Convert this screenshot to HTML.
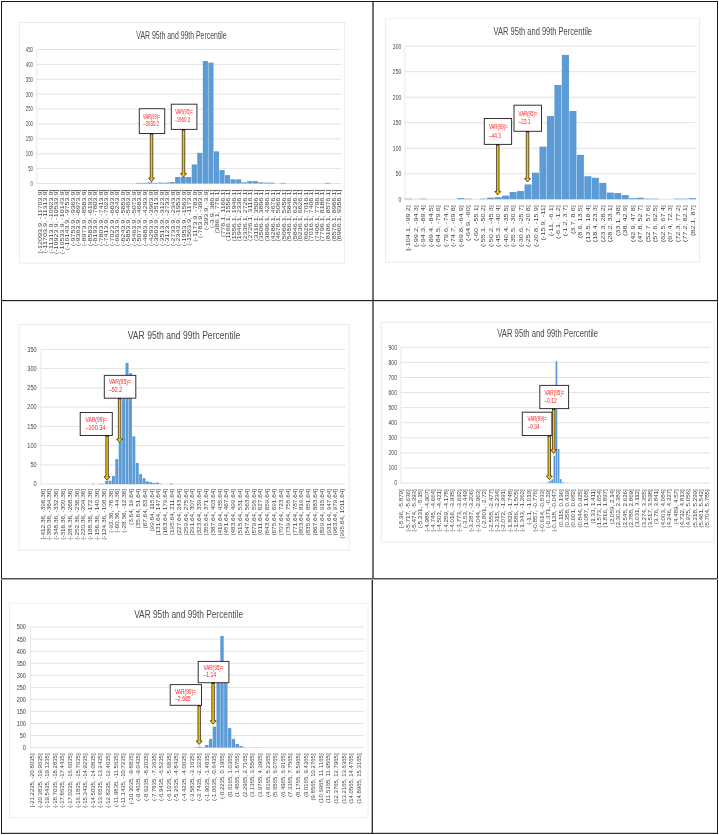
<!DOCTYPE html><html><head><meta charset="utf-8"><style>html,body{margin:0;padding:0;background:#fff;}svg{display:block;}text{font-family:"Liberation Sans",sans-serif;}svg{will-change:transform;}</style></head><body>
<svg width="719" height="835" viewBox="0 0 719 835">
<rect x="0" y="0" width="719" height="835" fill="#fff"/>
<defs><filter id="b" x="0" y="0" width="1" height="1"><feGaussianBlur stdDeviation="0.45"/></filter></defs>
<g filter="url(#b)">
<rect x="19.5" y="22.5" width="325.2" height="240.7" fill="#fff" stroke="#ececec" stroke-width="1"/>
<text x="136.3" y="38.7" font-size="10.8" fill="#4a4a4a" textLength="90.4" lengthAdjust="spacingAndGlyphs">VAR 95th and 99th Percentile</text>
<line x1="36.8" y1="183.5" x2="341.2" y2="183.5" stroke="#e3e3e3" stroke-width="1"/>
<text transform="translate(32.9,185.85) scale(0.65,1)" font-size="6.6" fill="#444444" text-anchor="end">0</text>
<line x1="36.8" y1="168.61" x2="341.2" y2="168.61" stroke="#e3e3e3" stroke-width="1"/>
<text transform="translate(32.9,170.96) scale(0.65,1)" font-size="6.6" fill="#444444" text-anchor="end">50</text>
<line x1="36.8" y1="153.72" x2="341.2" y2="153.72" stroke="#e3e3e3" stroke-width="1"/>
<text transform="translate(32.9,156.07) scale(0.65,1)" font-size="6.6" fill="#444444" text-anchor="end">100</text>
<line x1="36.8" y1="138.83" x2="341.2" y2="138.83" stroke="#e3e3e3" stroke-width="1"/>
<text transform="translate(32.9,141.18) scale(0.65,1)" font-size="6.6" fill="#444444" text-anchor="end">150</text>
<line x1="36.8" y1="123.94" x2="341.2" y2="123.94" stroke="#e3e3e3" stroke-width="1"/>
<text transform="translate(32.9,126.29) scale(0.65,1)" font-size="6.6" fill="#444444" text-anchor="end">200</text>
<line x1="36.8" y1="109.06" x2="341.2" y2="109.06" stroke="#e3e3e3" stroke-width="1"/>
<text transform="translate(32.9,111.41) scale(0.65,1)" font-size="6.6" fill="#444444" text-anchor="end">250</text>
<line x1="36.8" y1="94.17" x2="341.2" y2="94.17" stroke="#e3e3e3" stroke-width="1"/>
<text transform="translate(32.9,96.52) scale(0.65,1)" font-size="6.6" fill="#444444" text-anchor="end">300</text>
<line x1="36.8" y1="79.28" x2="341.2" y2="79.28" stroke="#e3e3e3" stroke-width="1"/>
<text transform="translate(32.9,81.63) scale(0.65,1)" font-size="6.6" fill="#444444" text-anchor="end">350</text>
<line x1="36.8" y1="64.39" x2="341.2" y2="64.39" stroke="#e3e3e3" stroke-width="1"/>
<text transform="translate(32.9,66.74) scale(0.65,1)" font-size="6.6" fill="#444444" text-anchor="end">400</text>
<line x1="36.8" y1="49.5" x2="341.2" y2="49.5" stroke="#e3e3e3" stroke-width="1"/>
<text transform="translate(32.9,51.85) scale(0.65,1)" font-size="6.6" fill="#444444" text-anchor="end">450</text>
<line x1="36.8" y1="49.5" x2="36.8" y2="183.5" stroke="#e3e3e3" stroke-width="0.8"/>
<rect x="136.26" y="182.9" width="5.15" height="0.6" fill="#5b9bd5"/>
<rect x="141.8" y="182.9" width="5.15" height="0.6" fill="#5b9bd5"/>
<rect x="147.35" y="182.31" width="5.15" height="1.19" fill="#5b9bd5"/>
<rect x="152.9" y="182.9" width="5.15" height="0.6" fill="#5b9bd5"/>
<rect x="158.44" y="182.61" width="5.15" height="0.89" fill="#5b9bd5"/>
<rect x="163.99" y="182.61" width="5.15" height="0.89" fill="#5b9bd5"/>
<rect x="169.53" y="182.01" width="5.15" height="1.49" fill="#5b9bd5"/>
<rect x="175.08" y="176.95" width="5.15" height="6.55" fill="#5b9bd5"/>
<rect x="180.63" y="176.95" width="5.15" height="6.55" fill="#5b9bd5"/>
<rect x="186.17" y="176.95" width="5.15" height="6.55" fill="#5b9bd5"/>
<rect x="191.72" y="164.44" width="5.15" height="19.06" fill="#5b9bd5"/>
<rect x="197.26" y="152.83" width="5.15" height="30.67" fill="#5b9bd5"/>
<rect x="202.81" y="61.11" width="5.15" height="122.39" fill="#5b9bd5"/>
<rect x="208.36" y="62.6" width="5.15" height="120.9" fill="#5b9bd5"/>
<rect x="213.9" y="151.34" width="5.15" height="32.16" fill="#5b9bd5"/>
<rect x="219.45" y="170.1" width="5.15" height="13.4" fill="#5b9bd5"/>
<rect x="224.99" y="175.16" width="5.15" height="8.34" fill="#5b9bd5"/>
<rect x="230.54" y="179.33" width="5.15" height="4.17" fill="#5b9bd5"/>
<rect x="236.09" y="179.33" width="5.15" height="4.17" fill="#5b9bd5"/>
<rect x="241.63" y="182.31" width="5.15" height="1.19" fill="#5b9bd5"/>
<rect x="247.18" y="181.12" width="5.15" height="2.38" fill="#5b9bd5"/>
<rect x="252.72" y="181.12" width="5.15" height="2.38" fill="#5b9bd5"/>
<rect x="258.27" y="182.31" width="5.15" height="1.19" fill="#5b9bd5"/>
<rect x="263.82" y="182.61" width="5.15" height="0.89" fill="#5b9bd5"/>
<rect x="269.36" y="182.61" width="5.15" height="0.89" fill="#5b9bd5"/>
<rect x="280.45" y="182.9" width="5.15" height="0.6" fill="#5b9bd5"/>
<rect x="324.82" y="182.9" width="5.15" height="0.6" fill="#5b9bd5"/>
<text transform="translate(41.61,189.5) rotate(-90) scale(1.35,1)" font-size="5.3" fill="#444444" text-anchor="end">[-12093.9, -11703.9]</text>
<text transform="translate(47.15,189.5) rotate(-90) scale(1.35,1)" font-size="5.3" fill="#444444" text-anchor="end">(-11703.9, -11313.9]</text>
<text transform="translate(52.7,189.5) rotate(-90) scale(1.35,1)" font-size="5.3" fill="#444444" text-anchor="end">(-11313.9, -10923.9]</text>
<text transform="translate(58.24,189.5) rotate(-90) scale(1.35,1)" font-size="5.3" fill="#444444" text-anchor="end">(-10923.9, -10533.9]</text>
<text transform="translate(63.79,189.5) rotate(-90) scale(1.35,1)" font-size="5.3" fill="#444444" text-anchor="end">(-10533.9, -10143.9]</text>
<text transform="translate(69.34,189.5) rotate(-90) scale(1.35,1)" font-size="5.3" fill="#444444" text-anchor="end">(-10143.9, -9753.9]</text>
<text transform="translate(74.88,189.5) rotate(-90) scale(1.35,1)" font-size="5.3" fill="#444444" text-anchor="end">(-9753.9, -9363.9]</text>
<text transform="translate(80.43,189.5) rotate(-90) scale(1.35,1)" font-size="5.3" fill="#444444" text-anchor="end">(-9363.9, -8973.9]</text>
<text transform="translate(85.97,189.5) rotate(-90) scale(1.35,1)" font-size="5.3" fill="#444444" text-anchor="end">(-8973.9, -8583.9]</text>
<text transform="translate(91.52,189.5) rotate(-90) scale(1.35,1)" font-size="5.3" fill="#444444" text-anchor="end">(-8583.9, -8193.9]</text>
<text transform="translate(97.07,189.5) rotate(-90) scale(1.35,1)" font-size="5.3" fill="#444444" text-anchor="end">(-8193.9, -7803.9]</text>
<text transform="translate(102.61,189.5) rotate(-90) scale(1.35,1)" font-size="5.3" fill="#444444" text-anchor="end">(-7803.9, -7413.9]</text>
<text transform="translate(108.16,189.5) rotate(-90) scale(1.35,1)" font-size="5.3" fill="#444444" text-anchor="end">(-7413.9, -7023.9]</text>
<text transform="translate(113.7,189.5) rotate(-90) scale(1.35,1)" font-size="5.3" fill="#444444" text-anchor="end">(-7023.9, -6633.9]</text>
<text transform="translate(119.25,189.5) rotate(-90) scale(1.35,1)" font-size="5.3" fill="#444444" text-anchor="end">(-6633.9, -6243.9]</text>
<text transform="translate(124.8,189.5) rotate(-90) scale(1.35,1)" font-size="5.3" fill="#444444" text-anchor="end">(-6243.9, -5853.9]</text>
<text transform="translate(130.34,189.5) rotate(-90) scale(1.35,1)" font-size="5.3" fill="#444444" text-anchor="end">(-5853.9, -5463.9]</text>
<text transform="translate(135.89,189.5) rotate(-90) scale(1.35,1)" font-size="5.3" fill="#444444" text-anchor="end">(-5463.9, -5073.9]</text>
<text transform="translate(141.43,189.5) rotate(-90) scale(1.35,1)" font-size="5.3" fill="#444444" text-anchor="end">(-5073.9, -4683.9]</text>
<text transform="translate(146.98,189.5) rotate(-90) scale(1.35,1)" font-size="5.3" fill="#444444" text-anchor="end">(-4683.9, -4293.9]</text>
<text transform="translate(152.53,189.5) rotate(-90) scale(1.35,1)" font-size="5.3" fill="#444444" text-anchor="end">(-4293.9, -3903.9]</text>
<text transform="translate(158.07,189.5) rotate(-90) scale(1.35,1)" font-size="5.3" fill="#444444" text-anchor="end">(-3903.9, -3513.9]</text>
<text transform="translate(163.62,189.5) rotate(-90) scale(1.35,1)" font-size="5.3" fill="#444444" text-anchor="end">(-3513.9, -3123.9]</text>
<text transform="translate(169.16,189.5) rotate(-90) scale(1.35,1)" font-size="5.3" fill="#444444" text-anchor="end">(-3123.9, -2733.9]</text>
<text transform="translate(174.71,189.5) rotate(-90) scale(1.35,1)" font-size="5.3" fill="#444444" text-anchor="end">(-2733.9, -2343.9]</text>
<text transform="translate(180.25,189.5) rotate(-90) scale(1.35,1)" font-size="5.3" fill="#444444" text-anchor="end">(-2343.9, -1953.9]</text>
<text transform="translate(185.8,189.5) rotate(-90) scale(1.35,1)" font-size="5.3" fill="#444444" text-anchor="end">(-1953.9, -1563.9]</text>
<text transform="translate(191.35,189.5) rotate(-90) scale(1.35,1)" font-size="5.3" fill="#444444" text-anchor="end">(-1563.9, -1173.9]</text>
<text transform="translate(196.89,189.5) rotate(-90) scale(1.35,1)" font-size="5.3" fill="#444444" text-anchor="end">(-1173.9, -783.9]</text>
<text transform="translate(202.44,189.5) rotate(-90) scale(1.35,1)" font-size="5.3" fill="#444444" text-anchor="end">(-783.9, -393.9]</text>
<text transform="translate(207.98,189.5) rotate(-90) scale(1.35,1)" font-size="5.3" fill="#444444" text-anchor="end">(-393.9, -3.9]</text>
<text transform="translate(213.53,189.5) rotate(-90) scale(1.35,1)" font-size="5.3" fill="#444444" text-anchor="end">(-3.9, 386.1]</text>
<text transform="translate(219.08,189.5) rotate(-90) scale(1.35,1)" font-size="5.3" fill="#444444" text-anchor="end">(386.1, 776.1]</text>
<text transform="translate(224.62,189.5) rotate(-90) scale(1.35,1)" font-size="5.3" fill="#444444" text-anchor="end">(776.1, 1166.1]</text>
<text transform="translate(230.17,189.5) rotate(-90) scale(1.35,1)" font-size="5.3" fill="#444444" text-anchor="end">(1166.1, 1556.1]</text>
<text transform="translate(235.72,189.5) rotate(-90) scale(1.35,1)" font-size="5.3" fill="#444444" text-anchor="end">(1556.1, 1946.1]</text>
<text transform="translate(241.26,189.5) rotate(-90) scale(1.35,1)" font-size="5.3" fill="#444444" text-anchor="end">(1946.1, 2336.1]</text>
<text transform="translate(246.81,189.5) rotate(-90) scale(1.35,1)" font-size="5.3" fill="#444444" text-anchor="end">(2336.1, 2726.1]</text>
<text transform="translate(252.35,189.5) rotate(-90) scale(1.35,1)" font-size="5.3" fill="#444444" text-anchor="end">(2726.1, 3116.1]</text>
<text transform="translate(257.9,189.5) rotate(-90) scale(1.35,1)" font-size="5.3" fill="#444444" text-anchor="end">(3116.1, 3506.1]</text>
<text transform="translate(263.44,189.5) rotate(-90) scale(1.35,1)" font-size="5.3" fill="#444444" text-anchor="end">(3506.1, 3896.1]</text>
<text transform="translate(268.99,189.5) rotate(-90) scale(1.35,1)" font-size="5.3" fill="#444444" text-anchor="end">(3896.1, 4286.1]</text>
<text transform="translate(274.54,189.5) rotate(-90) scale(1.35,1)" font-size="5.3" fill="#444444" text-anchor="end">(4286.1, 4676.1]</text>
<text transform="translate(280.08,189.5) rotate(-90) scale(1.35,1)" font-size="5.3" fill="#444444" text-anchor="end">(4676.1, 5066.1]</text>
<text transform="translate(285.63,189.5) rotate(-90) scale(1.35,1)" font-size="5.3" fill="#444444" text-anchor="end">(5066.1, 5456.1]</text>
<text transform="translate(291.18,189.5) rotate(-90) scale(1.35,1)" font-size="5.3" fill="#444444" text-anchor="end">(5456.1, 5846.1]</text>
<text transform="translate(296.72,189.5) rotate(-90) scale(1.35,1)" font-size="5.3" fill="#444444" text-anchor="end">(5846.1, 6236.1]</text>
<text transform="translate(302.27,189.5) rotate(-90) scale(1.35,1)" font-size="5.3" fill="#444444" text-anchor="end">(6236.1, 6626.1]</text>
<text transform="translate(307.81,189.5) rotate(-90) scale(1.35,1)" font-size="5.3" fill="#444444" text-anchor="end">(6626.1, 7016.1]</text>
<text transform="translate(313.36,189.5) rotate(-90) scale(1.35,1)" font-size="5.3" fill="#444444" text-anchor="end">(7016.1, 7406.1]</text>
<text transform="translate(318.91,189.5) rotate(-90) scale(1.35,1)" font-size="5.3" fill="#444444" text-anchor="end">(7406.1, 7796.1]</text>
<text transform="translate(324.45,189.5) rotate(-90) scale(1.35,1)" font-size="5.3" fill="#444444" text-anchor="end">(7796.1, 8186.1]</text>
<text transform="translate(330,189.5) rotate(-90) scale(1.35,1)" font-size="5.3" fill="#444444" text-anchor="end">(8186.1, 8576.1]</text>
<text transform="translate(335.54,189.5) rotate(-90) scale(1.35,1)" font-size="5.3" fill="#444444" text-anchor="end">(8576.1, 8966.1]</text>
<text transform="translate(341.09,189.5) rotate(-90) scale(1.35,1)" font-size="5.3" fill="#444444" text-anchor="end">(8966.1, 9356.1]</text>
<path d="M150.25,133.5 L150.25,178.1 L148.5,178.1 L151.5,181.7 L154.5,178.1 L152.75,178.1 L152.75,133.5 Z" fill="#ffc000" stroke="#262626" stroke-width="0.75" stroke-linejoin="miter"/>
<rect x="139.3" y="108.7" width="25.4" height="24.8" fill="#fff" stroke="#333" stroke-width="1"/>
<rect x="149.95" y="133.5" width="3.1" height="1" fill="#111"/>
<text x="143.1" y="118.5" font-size="7.2" fill="#ff1a1a" textLength="17.2" lengthAdjust="spacingAndGlyphs">VAR(99)=</text>
<text x="143.1" y="126.4" font-size="7.2" fill="#ff1a1a" textLength="15.9" lengthAdjust="spacingAndGlyphs">–3930.2</text>
<path d="M182.25,129.4 L182.25,173.6 L180.5,173.6 L183.5,177.2 L186.5,173.6 L184.75,173.6 L184.75,129.4 Z" fill="#ffc000" stroke="#262626" stroke-width="0.75" stroke-linejoin="miter"/>
<rect x="171.3" y="104.2" width="25.6" height="25.2" fill="#fff" stroke="#333" stroke-width="1"/>
<rect x="181.95" y="129.4" width="3.1" height="1" fill="#111"/>
<text x="175.2" y="114" font-size="7.2" fill="#ff1a1a" textLength="17.7" lengthAdjust="spacingAndGlyphs">VAR(95)=</text>
<text x="175.2" y="122.1" font-size="7.2" fill="#ff1a1a" textLength="15" lengthAdjust="spacingAndGlyphs">-1960.3</text>
<rect x="385.5" y="18.0" width="314" height="244.2" fill="#fff" stroke="#ececec" stroke-width="1"/>
<text x="493.6" y="34.9" font-size="10.8" fill="#4a4a4a" textLength="98.4" lengthAdjust="spacingAndGlyphs">VAR 95th and 99th Percentile</text>
<line x1="404.9" y1="199.2" x2="695.8" y2="199.2" stroke="#e3e3e3" stroke-width="1"/>
<text transform="translate(401.3,201.55) scale(0.77,1)" font-size="6.6" fill="#444444" text-anchor="end">0</text>
<line x1="404.9" y1="173.7" x2="695.8" y2="173.7" stroke="#e3e3e3" stroke-width="1"/>
<text transform="translate(401.3,176.05) scale(0.77,1)" font-size="6.6" fill="#444444" text-anchor="end">50</text>
<line x1="404.9" y1="148.2" x2="695.8" y2="148.2" stroke="#e3e3e3" stroke-width="1"/>
<text transform="translate(401.3,150.55) scale(0.77,1)" font-size="6.6" fill="#444444" text-anchor="end">100</text>
<line x1="404.9" y1="122.7" x2="695.8" y2="122.7" stroke="#e3e3e3" stroke-width="1"/>
<text transform="translate(401.3,125.05) scale(0.77,1)" font-size="6.6" fill="#444444" text-anchor="end">150</text>
<line x1="404.9" y1="97.2" x2="695.8" y2="97.2" stroke="#e3e3e3" stroke-width="1"/>
<text transform="translate(401.3,99.55) scale(0.77,1)" font-size="6.6" fill="#444444" text-anchor="end">200</text>
<line x1="404.9" y1="71.7" x2="695.8" y2="71.7" stroke="#e3e3e3" stroke-width="1"/>
<text transform="translate(401.3,74.05) scale(0.77,1)" font-size="6.6" fill="#444444" text-anchor="end">250</text>
<line x1="404.9" y1="46.2" x2="695.8" y2="46.2" stroke="#e3e3e3" stroke-width="1"/>
<text transform="translate(401.3,48.55) scale(0.77,1)" font-size="6.6" fill="#444444" text-anchor="end">300</text>
<line x1="404.9" y1="46.2" x2="404.9" y2="199.2" stroke="#e3e3e3" stroke-width="0.8"/>
<rect x="404.9" y="198.69" width="7.07" height="0.51" fill="#5b9bd5"/>
<rect x="419.85" y="198.69" width="7.07" height="0.51" fill="#5b9bd5"/>
<rect x="457.22" y="198.18" width="7.07" height="1.02" fill="#5b9bd5"/>
<rect x="464.7" y="198.69" width="7.07" height="0.51" fill="#5b9bd5"/>
<rect x="479.65" y="198.69" width="7.07" height="0.51" fill="#5b9bd5"/>
<rect x="487.12" y="197.67" width="7.07" height="1.53" fill="#5b9bd5"/>
<rect x="494.6" y="197.16" width="7.07" height="2.04" fill="#5b9bd5"/>
<rect x="502.07" y="195.63" width="7.07" height="3.57" fill="#5b9bd5"/>
<rect x="509.55" y="192.06" width="7.07" height="7.14" fill="#5b9bd5"/>
<rect x="517.03" y="191.04" width="7.07" height="8.16" fill="#5b9bd5"/>
<rect x="524.5" y="184.41" width="7.07" height="14.79" fill="#5b9bd5"/>
<rect x="531.98" y="172.68" width="7.07" height="26.52" fill="#5b9bd5"/>
<rect x="539.45" y="146.67" width="7.07" height="52.53" fill="#5b9bd5"/>
<rect x="546.93" y="116.07" width="7.07" height="83.13" fill="#5b9bd5"/>
<rect x="554.4" y="84.96" width="7.07" height="114.24" fill="#5b9bd5"/>
<rect x="561.88" y="54.87" width="7.07" height="144.33" fill="#5b9bd5"/>
<rect x="569.35" y="110.97" width="7.07" height="88.23" fill="#5b9bd5"/>
<rect x="576.83" y="154.83" width="7.07" height="44.37" fill="#5b9bd5"/>
<rect x="584.3" y="176.25" width="7.07" height="22.95" fill="#5b9bd5"/>
<rect x="591.78" y="177.78" width="7.07" height="21.42" fill="#5b9bd5"/>
<rect x="599.25" y="182.88" width="7.07" height="16.32" fill="#5b9bd5"/>
<rect x="606.73" y="192.57" width="7.07" height="6.63" fill="#5b9bd5"/>
<rect x="614.2" y="193.08" width="7.07" height="6.12" fill="#5b9bd5"/>
<rect x="621.67" y="195.12" width="7.07" height="4.08" fill="#5b9bd5"/>
<rect x="629.15" y="198.18" width="7.07" height="1.02" fill="#5b9bd5"/>
<rect x="636.62" y="197.67" width="7.07" height="1.53" fill="#5b9bd5"/>
<rect x="644.1" y="198.69" width="7.07" height="0.51" fill="#5b9bd5"/>
<rect x="651.58" y="198.69" width="7.07" height="0.51" fill="#5b9bd5"/>
<rect x="674" y="198.69" width="7.07" height="0.51" fill="#5b9bd5"/>
<rect x="681.48" y="198.69" width="7.07" height="0.51" fill="#5b9bd5"/>
<rect x="688.95" y="198.18" width="7.07" height="1.02" fill="#5b9bd5"/>
<text transform="translate(410.48,205.2) rotate(-90) scale(1.22,1)" font-size="6" fill="#444444" text-anchor="end">[-104.1, -99.2]</text>
<text transform="translate(417.95,205.2) rotate(-90) scale(1.22,1)" font-size="6" fill="#444444" text-anchor="end">(-99.2, -94.3]</text>
<text transform="translate(425.43,205.2) rotate(-90) scale(1.22,1)" font-size="6" fill="#444444" text-anchor="end">(-94.3, -89.4]</text>
<text transform="translate(432.9,205.2) rotate(-90) scale(1.22,1)" font-size="6" fill="#444444" text-anchor="end">(-89.4, -84.5]</text>
<text transform="translate(440.38,205.2) rotate(-90) scale(1.22,1)" font-size="6" fill="#444444" text-anchor="end">(-84.5, -79.6]</text>
<text transform="translate(447.85,205.2) rotate(-90) scale(1.22,1)" font-size="6" fill="#444444" text-anchor="end">(-79.6, -74.7]</text>
<text transform="translate(455.33,205.2) rotate(-90) scale(1.22,1)" font-size="6" fill="#444444" text-anchor="end">(-74.7, -69.8]</text>
<text transform="translate(462.8,205.2) rotate(-90) scale(1.22,1)" font-size="6" fill="#444444" text-anchor="end">(-69.8, -64.9]</text>
<text transform="translate(470.28,205.2) rotate(-90) scale(1.22,1)" font-size="6" fill="#444444" text-anchor="end">(-64.9, -60]</text>
<text transform="translate(477.75,205.2) rotate(-90) scale(1.22,1)" font-size="6" fill="#444444" text-anchor="end">(-60, -55.1]</text>
<text transform="translate(485.23,205.2) rotate(-90) scale(1.22,1)" font-size="6" fill="#444444" text-anchor="end">(-55.1, -50.2]</text>
<text transform="translate(492.7,205.2) rotate(-90) scale(1.22,1)" font-size="6" fill="#444444" text-anchor="end">(-50.2, -45.3]</text>
<text transform="translate(500.18,205.2) rotate(-90) scale(1.22,1)" font-size="6" fill="#444444" text-anchor="end">(-45.3, -40.4]</text>
<text transform="translate(507.65,205.2) rotate(-90) scale(1.22,1)" font-size="6" fill="#444444" text-anchor="end">(-40.4, -35.5]</text>
<text transform="translate(515.13,205.2) rotate(-90) scale(1.22,1)" font-size="6" fill="#444444" text-anchor="end">(-35.5, -30.6]</text>
<text transform="translate(522.6,205.2) rotate(-90) scale(1.22,1)" font-size="6" fill="#444444" text-anchor="end">(-30.6, -25.7]</text>
<text transform="translate(530.08,205.2) rotate(-90) scale(1.22,1)" font-size="6" fill="#444444" text-anchor="end">(-25.7, -20.8]</text>
<text transform="translate(537.55,205.2) rotate(-90) scale(1.22,1)" font-size="6" fill="#444444" text-anchor="end">(-20.8, -15.9]</text>
<text transform="translate(545.03,205.2) rotate(-90) scale(1.22,1)" font-size="6" fill="#444444" text-anchor="end">(-15.9, -11]</text>
<text transform="translate(552.5,205.2) rotate(-90) scale(1.22,1)" font-size="6" fill="#444444" text-anchor="end">(-11, -6.1]</text>
<text transform="translate(559.98,205.2) rotate(-90) scale(1.22,1)" font-size="6" fill="#444444" text-anchor="end">(-6.1, -1.2]</text>
<text transform="translate(567.45,205.2) rotate(-90) scale(1.22,1)" font-size="6" fill="#444444" text-anchor="end">(-1.2, 3.7]</text>
<text transform="translate(574.93,205.2) rotate(-90) scale(1.22,1)" font-size="6" fill="#444444" text-anchor="end">(3.7, 8.6]</text>
<text transform="translate(582.4,205.2) rotate(-90) scale(1.22,1)" font-size="6" fill="#444444" text-anchor="end">(8.6, 13.5]</text>
<text transform="translate(589.88,205.2) rotate(-90) scale(1.22,1)" font-size="6" fill="#444444" text-anchor="end">(13.5, 18.4]</text>
<text transform="translate(597.35,205.2) rotate(-90) scale(1.22,1)" font-size="6" fill="#444444" text-anchor="end">(18.4, 23.3]</text>
<text transform="translate(604.83,205.2) rotate(-90) scale(1.22,1)" font-size="6" fill="#444444" text-anchor="end">(23.3, 28.2]</text>
<text transform="translate(612.3,205.2) rotate(-90) scale(1.22,1)" font-size="6" fill="#444444" text-anchor="end">(28.2, 33.1]</text>
<text transform="translate(619.78,205.2) rotate(-90) scale(1.22,1)" font-size="6" fill="#444444" text-anchor="end">(33.1, 38]</text>
<text transform="translate(627.25,205.2) rotate(-90) scale(1.22,1)" font-size="6" fill="#444444" text-anchor="end">(38, 42.9]</text>
<text transform="translate(634.73,205.2) rotate(-90) scale(1.22,1)" font-size="6" fill="#444444" text-anchor="end">(42.9, 47.8]</text>
<text transform="translate(642.2,205.2) rotate(-90) scale(1.22,1)" font-size="6" fill="#444444" text-anchor="end">(47.8, 52.7]</text>
<text transform="translate(649.68,205.2) rotate(-90) scale(1.22,1)" font-size="6" fill="#444444" text-anchor="end">(52.7, 57.6]</text>
<text transform="translate(657.15,205.2) rotate(-90) scale(1.22,1)" font-size="6" fill="#444444" text-anchor="end">(57.6, 62.5]</text>
<text transform="translate(664.63,205.2) rotate(-90) scale(1.22,1)" font-size="6" fill="#444444" text-anchor="end">(62.5, 67.4]</text>
<text transform="translate(672.1,205.2) rotate(-90) scale(1.22,1)" font-size="6" fill="#444444" text-anchor="end">(67.4, 72.3]</text>
<text transform="translate(679.58,205.2) rotate(-90) scale(1.22,1)" font-size="6" fill="#444444" text-anchor="end">(72.3, 77.2]</text>
<text transform="translate(687.05,205.2) rotate(-90) scale(1.22,1)" font-size="6" fill="#444444" text-anchor="end">(77.2, 82.1]</text>
<text transform="translate(694.53,205.2) rotate(-90) scale(1.22,1)" font-size="6" fill="#444444" text-anchor="end">(82.1, 87]</text>
<path d="M496.55,144.4 L496.55,191.4 L494.8,191.4 L497.8,195.0 L500.8,191.4 L499.05,191.4 L499.05,144.4 Z" fill="#ffc000" stroke="#262626" stroke-width="0.75" stroke-linejoin="miter"/>
<rect x="484.3" y="118.5" width="27.3" height="25.9" fill="#fff" stroke="#333" stroke-width="1"/>
<rect x="496.25" y="144.4" width="3.1" height="1" fill="#111"/>
<text x="488.9" y="128.8" font-size="7.2" fill="#ff1a1a" textLength="18.8" lengthAdjust="spacingAndGlyphs">VAR(99)=</text>
<text x="488.9" y="137.7" font-size="7.2" fill="#ff1a1a" textLength="11.9" lengthAdjust="spacingAndGlyphs">–44.3</text>
<path d="M526.25,131.3 L526.25,178.4 L524.5,178.4 L527.5,182.0 L530.5,178.4 L528.75,178.4 L528.75,131.3 Z" fill="#ffc000" stroke="#262626" stroke-width="0.75" stroke-linejoin="miter"/>
<rect x="514.0" y="105.2" width="27.5" height="26.1" fill="#fff" stroke="#333" stroke-width="1"/>
<rect x="525.95" y="131.3" width="3.1" height="1" fill="#111"/>
<text x="518.6" y="115.9" font-size="7.2" fill="#ff1a1a" textLength="18.8" lengthAdjust="spacingAndGlyphs">VAR(95)=</text>
<text x="518.6" y="124.4" font-size="7.2" fill="#ff1a1a" textLength="11.9" lengthAdjust="spacingAndGlyphs">–23.1</text>
<rect x="19.2" y="324.5" width="330" height="225.8" fill="#fff" stroke="#ececec" stroke-width="1"/>
<text x="127.7" y="339.2" font-size="10.8" fill="#4a4a4a" textLength="112.7" lengthAdjust="spacingAndGlyphs">VAR 95th and 99th Percentile</text>
<line x1="40.8" y1="484.1" x2="345.5" y2="484.1" stroke="#e3e3e3" stroke-width="1"/>
<text transform="translate(36.7,486.45) scale(0.86,1)" font-size="6.6" fill="#444444" text-anchor="end">0</text>
<line x1="40.8" y1="464.86" x2="345.5" y2="464.86" stroke="#e3e3e3" stroke-width="1"/>
<text transform="translate(36.7,467.21) scale(0.86,1)" font-size="6.6" fill="#444444" text-anchor="end">50</text>
<line x1="40.8" y1="445.61" x2="345.5" y2="445.61" stroke="#e3e3e3" stroke-width="1"/>
<text transform="translate(36.7,447.96) scale(0.86,1)" font-size="6.6" fill="#444444" text-anchor="end">100</text>
<line x1="40.8" y1="426.37" x2="345.5" y2="426.37" stroke="#e3e3e3" stroke-width="1"/>
<text transform="translate(36.7,428.72) scale(0.86,1)" font-size="6.6" fill="#444444" text-anchor="end">150</text>
<line x1="40.8" y1="407.13" x2="345.5" y2="407.13" stroke="#e3e3e3" stroke-width="1"/>
<text transform="translate(36.7,409.48) scale(0.86,1)" font-size="6.6" fill="#444444" text-anchor="end">200</text>
<line x1="40.8" y1="387.89" x2="345.5" y2="387.89" stroke="#e3e3e3" stroke-width="1"/>
<text transform="translate(36.7,390.24) scale(0.86,1)" font-size="6.6" fill="#444444" text-anchor="end">250</text>
<line x1="40.8" y1="368.64" x2="345.5" y2="368.64" stroke="#e3e3e3" stroke-width="1"/>
<text transform="translate(36.7,370.99) scale(0.86,1)" font-size="6.6" fill="#444444" text-anchor="end">300</text>
<line x1="40.8" y1="349.4" x2="345.5" y2="349.4" stroke="#e3e3e3" stroke-width="1"/>
<text transform="translate(36.7,351.75) scale(0.86,1)" font-size="6.6" fill="#444444" text-anchor="end">350</text>
<line x1="40.8" y1="349.4" x2="40.8" y2="484.1" stroke="#e3e3e3" stroke-width="0.8"/>
<rect x="91.48" y="483.72" width="3" height="0.38" fill="#5b9bd5"/>
<rect x="98.29" y="483.72" width="3" height="0.38" fill="#5b9bd5"/>
<rect x="101.69" y="483.72" width="3" height="0.38" fill="#5b9bd5"/>
<rect x="105.09" y="481.02" width="3" height="3.08" fill="#5b9bd5"/>
<rect x="108.5" y="480.64" width="3" height="3.46" fill="#5b9bd5"/>
<rect x="111.91" y="476.02" width="3" height="8.08" fill="#5b9bd5"/>
<rect x="115.31" y="459.08" width="3" height="25.02" fill="#5b9bd5"/>
<rect x="118.72" y="441.77" width="3" height="42.33" fill="#5b9bd5"/>
<rect x="122.12" y="384.04" width="3" height="100.06" fill="#5b9bd5"/>
<rect x="125.53" y="362.87" width="3" height="121.23" fill="#5b9bd5"/>
<rect x="128.93" y="373.26" width="3" height="110.84" fill="#5b9bd5"/>
<rect x="132.33" y="436.38" width="3" height="47.72" fill="#5b9bd5"/>
<rect x="135.74" y="462.93" width="3" height="21.17" fill="#5b9bd5"/>
<rect x="139.14" y="474.09" width="3" height="10.01" fill="#5b9bd5"/>
<rect x="142.55" y="478.33" width="3" height="5.77" fill="#5b9bd5"/>
<rect x="145.95" y="481.41" width="3" height="2.69" fill="#5b9bd5"/>
<rect x="149.36" y="482.18" width="3" height="1.92" fill="#5b9bd5"/>
<rect x="152.76" y="482.95" width="3" height="1.15" fill="#5b9bd5"/>
<rect x="156.17" y="482.56" width="3" height="1.54" fill="#5b9bd5"/>
<rect x="159.57" y="483.72" width="3" height="0.38" fill="#5b9bd5"/>
<rect x="169.79" y="483.52" width="3" height="0.58" fill="#5b9bd5"/>
<text transform="translate(44.54,488.9) rotate(-90) scale(1.07,1)" font-size="6" fill="#444444" text-anchor="end">[-412.36, -396.36]</text>
<text transform="translate(51.35,488.9) rotate(-90) scale(1.07,1)" font-size="6" fill="#444444" text-anchor="end">(-380.36, -364.36]</text>
<text transform="translate(58.16,488.9) rotate(-90) scale(1.07,1)" font-size="6" fill="#444444" text-anchor="end">(-348.36, -332.36]</text>
<text transform="translate(64.97,488.9) rotate(-90) scale(1.07,1)" font-size="6" fill="#444444" text-anchor="end">(-316.36, -300.36]</text>
<text transform="translate(71.78,488.9) rotate(-90) scale(1.07,1)" font-size="6" fill="#444444" text-anchor="end">(-284.36, -268.36]</text>
<text transform="translate(78.59,488.9) rotate(-90) scale(1.07,1)" font-size="6" fill="#444444" text-anchor="end">(-252.36, -236.36]</text>
<text transform="translate(85.4,488.9) rotate(-90) scale(1.07,1)" font-size="6" fill="#444444" text-anchor="end">(-220.36, -204.36]</text>
<text transform="translate(92.21,488.9) rotate(-90) scale(1.07,1)" font-size="6" fill="#444444" text-anchor="end">(-188.36, -172.36]</text>
<text transform="translate(99.02,488.9) rotate(-90) scale(1.07,1)" font-size="6" fill="#444444" text-anchor="end">(-156.36, -140.36]</text>
<text transform="translate(105.83,488.9) rotate(-90) scale(1.07,1)" font-size="6" fill="#444444" text-anchor="end">(-124.36, -108.36]</text>
<text transform="translate(112.64,488.9) rotate(-90) scale(1.07,1)" font-size="6" fill="#444444" text-anchor="end">(-92.36, -76.36]</text>
<text transform="translate(119.45,488.9) rotate(-90) scale(1.07,1)" font-size="6" fill="#444444" text-anchor="end">(-60.36, -44.36]</text>
<text transform="translate(126.26,488.9) rotate(-90) scale(1.07,1)" font-size="6" fill="#444444" text-anchor="end">(-28.36, -12.36]</text>
<text transform="translate(133.07,488.9) rotate(-90) scale(1.07,1)" font-size="6" fill="#444444" text-anchor="end">(3.64, 19.64]</text>
<text transform="translate(139.88,488.9) rotate(-90) scale(1.07,1)" font-size="6" fill="#444444" text-anchor="end">(35.64, 51.64]</text>
<text transform="translate(146.69,488.9) rotate(-90) scale(1.07,1)" font-size="6" fill="#444444" text-anchor="end">(67.64, 83.64]</text>
<text transform="translate(153.5,488.9) rotate(-90) scale(1.07,1)" font-size="6" fill="#444444" text-anchor="end">(99.64, 115.64]</text>
<text transform="translate(160.31,488.9) rotate(-90) scale(1.07,1)" font-size="6" fill="#444444" text-anchor="end">(131.64, 147.64]</text>
<text transform="translate(167.12,488.9) rotate(-90) scale(1.07,1)" font-size="6" fill="#444444" text-anchor="end">(163.64, 179.64]</text>
<text transform="translate(173.93,488.9) rotate(-90) scale(1.07,1)" font-size="6" fill="#444444" text-anchor="end">(195.64, 211.64]</text>
<text transform="translate(180.74,488.9) rotate(-90) scale(1.07,1)" font-size="6" fill="#444444" text-anchor="end">(227.64, 243.64]</text>
<text transform="translate(187.55,488.9) rotate(-90) scale(1.07,1)" font-size="6" fill="#444444" text-anchor="end">(259.64, 275.64]</text>
<text transform="translate(194.36,488.9) rotate(-90) scale(1.07,1)" font-size="6" fill="#444444" text-anchor="end">(291.64, 307.64]</text>
<text transform="translate(201.17,488.9) rotate(-90) scale(1.07,1)" font-size="6" fill="#444444" text-anchor="end">(323.64, 339.64]</text>
<text transform="translate(207.98,488.9) rotate(-90) scale(1.07,1)" font-size="6" fill="#444444" text-anchor="end">(355.64, 371.64]</text>
<text transform="translate(214.79,488.9) rotate(-90) scale(1.07,1)" font-size="6" fill="#444444" text-anchor="end">(387.64, 403.64]</text>
<text transform="translate(221.6,488.9) rotate(-90) scale(1.07,1)" font-size="6" fill="#444444" text-anchor="end">(419.64, 435.64]</text>
<text transform="translate(228.41,488.9) rotate(-90) scale(1.07,1)" font-size="6" fill="#444444" text-anchor="end">(451.64, 467.64]</text>
<text transform="translate(235.22,488.9) rotate(-90) scale(1.07,1)" font-size="6" fill="#444444" text-anchor="end">(483.64, 499.64]</text>
<text transform="translate(242.03,488.9) rotate(-90) scale(1.07,1)" font-size="6" fill="#444444" text-anchor="end">(515.64, 531.64]</text>
<text transform="translate(248.84,488.9) rotate(-90) scale(1.07,1)" font-size="6" fill="#444444" text-anchor="end">(547.64, 563.64]</text>
<text transform="translate(255.65,488.9) rotate(-90) scale(1.07,1)" font-size="6" fill="#444444" text-anchor="end">(579.64, 595.64]</text>
<text transform="translate(262.46,488.9) rotate(-90) scale(1.07,1)" font-size="6" fill="#444444" text-anchor="end">(611.64, 627.64]</text>
<text transform="translate(269.27,488.9) rotate(-90) scale(1.07,1)" font-size="6" fill="#444444" text-anchor="end">(643.64, 659.64]</text>
<text transform="translate(276.08,488.9) rotate(-90) scale(1.07,1)" font-size="6" fill="#444444" text-anchor="end">(675.64, 691.64]</text>
<text transform="translate(282.89,488.9) rotate(-90) scale(1.07,1)" font-size="6" fill="#444444" text-anchor="end">(707.64, 723.64]</text>
<text transform="translate(289.7,488.9) rotate(-90) scale(1.07,1)" font-size="6" fill="#444444" text-anchor="end">(739.64, 755.64]</text>
<text transform="translate(296.51,488.9) rotate(-90) scale(1.07,1)" font-size="6" fill="#444444" text-anchor="end">(771.64, 787.64]</text>
<text transform="translate(303.32,488.9) rotate(-90) scale(1.07,1)" font-size="6" fill="#444444" text-anchor="end">(803.64, 819.64]</text>
<text transform="translate(310.13,488.9) rotate(-90) scale(1.07,1)" font-size="6" fill="#444444" text-anchor="end">(835.64, 851.64]</text>
<text transform="translate(316.94,488.9) rotate(-90) scale(1.07,1)" font-size="6" fill="#444444" text-anchor="end">(867.64, 883.64]</text>
<text transform="translate(323.75,488.9) rotate(-90) scale(1.07,1)" font-size="6" fill="#444444" text-anchor="end">(899.64, 915.64]</text>
<text transform="translate(330.56,488.9) rotate(-90) scale(1.07,1)" font-size="6" fill="#444444" text-anchor="end">(931.64, 947.64]</text>
<text transform="translate(337.37,488.9) rotate(-90) scale(1.07,1)" font-size="6" fill="#444444" text-anchor="end">(963.64, 979.64]</text>
<text transform="translate(344.18,488.9) rotate(-90) scale(1.07,1)" font-size="6" fill="#444444" text-anchor="end">(995.64, 1011.64]</text>
<path d="M105.85,435.5 L105.85,476.7 L104.1,476.7 L107.1,480.3 L110.1,476.7 L108.35,476.7 L108.35,435.5 Z" fill="#ffc000" stroke="#262626" stroke-width="0.75" stroke-linejoin="miter"/>
<rect x="80.2" y="412.5" width="32.1" height="23" fill="#fff" stroke="#333" stroke-width="1"/>
<rect x="105.55" y="435.5" width="3.1" height="1" fill="#111"/>
<text x="85.5" y="422" font-size="6.8" fill="#ff1a1a" textLength="21.4" lengthAdjust="spacingAndGlyphs">VAR(99)=</text>
<text x="85.5" y="429.8" font-size="6.8" fill="#ff1a1a" textLength="19.9" lengthAdjust="spacingAndGlyphs">–100.34</text>
<path d="M118.35,398.2 L118.35,439 L116.6,439 L119.6,442.6 L122.6,439 L120.85,439 L120.85,398.2 Z" fill="#ffc000" stroke="#262626" stroke-width="0.75" stroke-linejoin="miter"/>
<rect x="104.3" y="375.4" width="31.5" height="22.8" fill="#fff" stroke="#333" stroke-width="1"/>
<rect x="118.05" y="398.2" width="3.1" height="1" fill="#111"/>
<text x="108.9" y="384.3" font-size="6.8" fill="#ff1a1a" textLength="22" lengthAdjust="spacingAndGlyphs">VAR(95)=</text>
<text x="108.9" y="392" font-size="6.8" fill="#ff1a1a" textLength="13.3" lengthAdjust="spacingAndGlyphs">–52.2</text>
<rect x="381.3" y="322.2" width="332.8" height="220.1" fill="#fff" stroke="#ececec" stroke-width="1"/>
<text x="497.2" y="337.1" font-size="10.8" fill="#4a4a4a" textLength="100.9" lengthAdjust="spacingAndGlyphs">VAR 95th and 99th Percentile</text>
<line x1="400.9" y1="483.1" x2="710.1" y2="483.1" stroke="#e3e3e3" stroke-width="1"/>
<text transform="translate(397.0,485.45) scale(0.77,1)" font-size="6.6" fill="#444444" text-anchor="end">0</text>
<line x1="400.9" y1="468.01" x2="710.1" y2="468.01" stroke="#e3e3e3" stroke-width="1"/>
<text transform="translate(397.0,470.36) scale(0.77,1)" font-size="6.6" fill="#444444" text-anchor="end">100</text>
<line x1="400.9" y1="452.92" x2="710.1" y2="452.92" stroke="#e3e3e3" stroke-width="1"/>
<text transform="translate(397.0,455.27) scale(0.77,1)" font-size="6.6" fill="#444444" text-anchor="end">200</text>
<line x1="400.9" y1="437.83" x2="710.1" y2="437.83" stroke="#e3e3e3" stroke-width="1"/>
<text transform="translate(397.0,440.18) scale(0.77,1)" font-size="6.6" fill="#444444" text-anchor="end">300</text>
<line x1="400.9" y1="422.74" x2="710.1" y2="422.74" stroke="#e3e3e3" stroke-width="1"/>
<text transform="translate(397.0,425.09) scale(0.77,1)" font-size="6.6" fill="#444444" text-anchor="end">400</text>
<line x1="400.9" y1="407.66" x2="710.1" y2="407.66" stroke="#e3e3e3" stroke-width="1"/>
<text transform="translate(397.0,410.01) scale(0.77,1)" font-size="6.6" fill="#444444" text-anchor="end">500</text>
<line x1="400.9" y1="392.57" x2="710.1" y2="392.57" stroke="#e3e3e3" stroke-width="1"/>
<text transform="translate(397.0,394.92) scale(0.77,1)" font-size="6.6" fill="#444444" text-anchor="end">600</text>
<line x1="400.9" y1="377.48" x2="710.1" y2="377.48" stroke="#e3e3e3" stroke-width="1"/>
<text transform="translate(397.0,379.83) scale(0.77,1)" font-size="6.6" fill="#444444" text-anchor="end">700</text>
<line x1="400.9" y1="362.39" x2="710.1" y2="362.39" stroke="#e3e3e3" stroke-width="1"/>
<text transform="translate(397.0,364.74) scale(0.77,1)" font-size="6.6" fill="#444444" text-anchor="end">800</text>
<line x1="400.9" y1="347.3" x2="710.1" y2="347.3" stroke="#e3e3e3" stroke-width="1"/>
<text transform="translate(397.0,349.65) scale(0.77,1)" font-size="6.6" fill="#444444" text-anchor="end">900</text>
<line x1="400.9" y1="347.3" x2="400.9" y2="483.1" stroke="#e3e3e3" stroke-width="0.8"/>
<rect x="540.68" y="482.95" width="1.73" height="0.15" fill="#5b9bd5"/>
<rect x="542.81" y="482.95" width="1.73" height="0.15" fill="#5b9bd5"/>
<rect x="544.94" y="482.95" width="1.73" height="0.15" fill="#5b9bd5"/>
<rect x="547.06" y="482.5" width="1.73" height="0.6" fill="#5b9bd5"/>
<rect x="549.19" y="480.84" width="1.73" height="2.26" fill="#5b9bd5"/>
<rect x="551.32" y="479.33" width="1.73" height="3.77" fill="#5b9bd5"/>
<rect x="553.44" y="455.79" width="1.73" height="27.31" fill="#5b9bd5"/>
<rect x="555.57" y="361.18" width="1.73" height="121.92" fill="#5b9bd5"/>
<rect x="557.7" y="449" width="1.73" height="34.1" fill="#5b9bd5"/>
<rect x="559.83" y="479.18" width="1.73" height="3.92" fill="#5b9bd5"/>
<rect x="561.95" y="482.35" width="1.73" height="0.75" fill="#5b9bd5"/>
<rect x="564.08" y="482.95" width="1.73" height="0.15" fill="#5b9bd5"/>
<rect x="566.21" y="482.95" width="1.73" height="0.15" fill="#5b9bd5"/>
<rect x="568.33" y="482.95" width="1.73" height="0.15" fill="#5b9bd5"/>
<text transform="translate(403.2,489.2) rotate(-90) scale(1.04,1)" font-size="6" fill="#444444" text-anchor="end">[-5.96, -5.879]</text>
<text transform="translate(409.58,489.2) rotate(-90) scale(1.04,1)" font-size="6" fill="#444444" text-anchor="end">(-5.717, -5.636]</text>
<text transform="translate(415.97,489.2) rotate(-90) scale(1.04,1)" font-size="6" fill="#444444" text-anchor="end">(-5.474, -5.393]</text>
<text transform="translate(422.35,489.2) rotate(-90) scale(1.04,1)" font-size="6" fill="#444444" text-anchor="end">(-5.231, -5.15]</text>
<text transform="translate(428.73,489.2) rotate(-90) scale(1.04,1)" font-size="6" fill="#444444" text-anchor="end">(-4.988, -4.907]</text>
<text transform="translate(435.11,489.2) rotate(-90) scale(1.04,1)" font-size="6" fill="#444444" text-anchor="end">(-4.745, -4.664]</text>
<text transform="translate(441.49,489.2) rotate(-90) scale(1.04,1)" font-size="6" fill="#444444" text-anchor="end">(-4.502, -4.421]</text>
<text transform="translate(447.87,489.2) rotate(-90) scale(1.04,1)" font-size="6" fill="#444444" text-anchor="end">(-4.259, -4.178]</text>
<text transform="translate(454.25,489.2) rotate(-90) scale(1.04,1)" font-size="6" fill="#444444" text-anchor="end">(-4.016, -3.935]</text>
<text transform="translate(460.63,489.2) rotate(-90) scale(1.04,1)" font-size="6" fill="#444444" text-anchor="end">(-3.773, -3.692]</text>
<text transform="translate(467.01,489.2) rotate(-90) scale(1.04,1)" font-size="6" fill="#444444" text-anchor="end">(-3.53, -3.449]</text>
<text transform="translate(473.39,489.2) rotate(-90) scale(1.04,1)" font-size="6" fill="#444444" text-anchor="end">(-3.287, -3.206]</text>
<text transform="translate(479.78,489.2) rotate(-90) scale(1.04,1)" font-size="6" fill="#444444" text-anchor="end">(-3.044, -2.963]</text>
<text transform="translate(486.16,489.2) rotate(-90) scale(1.04,1)" font-size="6" fill="#444444" text-anchor="end">(-2.801, -2.72]</text>
<text transform="translate(492.54,489.2) rotate(-90) scale(1.04,1)" font-size="6" fill="#444444" text-anchor="end">(-2.558, -2.477]</text>
<text transform="translate(498.92,489.2) rotate(-90) scale(1.04,1)" font-size="6" fill="#444444" text-anchor="end">(-2.315, -2.234]</text>
<text transform="translate(505.3,489.2) rotate(-90) scale(1.04,1)" font-size="6" fill="#444444" text-anchor="end">(-2.072, -1.991]</text>
<text transform="translate(511.68,489.2) rotate(-90) scale(1.04,1)" font-size="6" fill="#444444" text-anchor="end">(-1.829, -1.748]</text>
<text transform="translate(518.06,489.2) rotate(-90) scale(1.04,1)" font-size="6" fill="#444444" text-anchor="end">(-1.586, -1.505]</text>
<text transform="translate(524.44,489.2) rotate(-90) scale(1.04,1)" font-size="6" fill="#444444" text-anchor="end">(-1.343, -1.262]</text>
<text transform="translate(530.82,489.2) rotate(-90) scale(1.04,1)" font-size="6" fill="#444444" text-anchor="end">(-1.1, -1.019]</text>
<text transform="translate(537.2,489.2) rotate(-90) scale(1.04,1)" font-size="6" fill="#444444" text-anchor="end">(-0.857, -0.776]</text>
<text transform="translate(543.59,489.2) rotate(-90) scale(1.04,1)" font-size="6" fill="#444444" text-anchor="end">(-0.614, -0.533]</text>
<text transform="translate(549.97,489.2) rotate(-90) scale(1.04,1)" font-size="6" fill="#444444" text-anchor="end">(-0.371, -0.29]</text>
<text transform="translate(556.35,489.2) rotate(-90) scale(1.04,1)" font-size="6" fill="#444444" text-anchor="end">(-0.128, -0.047]</text>
<text transform="translate(562.73,489.2) rotate(-90) scale(1.04,1)" font-size="6" fill="#444444" text-anchor="end">(0.115, 0.196]</text>
<text transform="translate(569.11,489.2) rotate(-90) scale(1.04,1)" font-size="6" fill="#444444" text-anchor="end">(0.358, 0.439]</text>
<text transform="translate(575.49,489.2) rotate(-90) scale(1.04,1)" font-size="6" fill="#444444" text-anchor="end">(0.601, 0.682]</text>
<text transform="translate(581.87,489.2) rotate(-90) scale(1.04,1)" font-size="6" fill="#444444" text-anchor="end">(0.844, 0.925]</text>
<text transform="translate(588.25,489.2) rotate(-90) scale(1.04,1)" font-size="6" fill="#444444" text-anchor="end">(1.087, 1.168]</text>
<text transform="translate(594.63,489.2) rotate(-90) scale(1.04,1)" font-size="6" fill="#444444" text-anchor="end">(1.33, 1.411]</text>
<text transform="translate(601.01,489.2) rotate(-90) scale(1.04,1)" font-size="6" fill="#444444" text-anchor="end">(1.573, 1.654]</text>
<text transform="translate(607.4,489.2) rotate(-90) scale(1.04,1)" font-size="6" fill="#444444" text-anchor="end">(1.816, 1.897]</text>
<text transform="translate(613.78,489.2) rotate(-90) scale(1.04,1)" font-size="6" fill="#444444" text-anchor="end">(2.059, 2.14]</text>
<text transform="translate(620.16,489.2) rotate(-90) scale(1.04,1)" font-size="6" fill="#444444" text-anchor="end">(2.302, 2.383]</text>
<text transform="translate(626.54,489.2) rotate(-90) scale(1.04,1)" font-size="6" fill="#444444" text-anchor="end">(2.545, 2.626]</text>
<text transform="translate(632.92,489.2) rotate(-90) scale(1.04,1)" font-size="6" fill="#444444" text-anchor="end">(2.788, 2.869]</text>
<text transform="translate(639.3,489.2) rotate(-90) scale(1.04,1)" font-size="6" fill="#444444" text-anchor="end">(3.031, 3.112]</text>
<text transform="translate(645.68,489.2) rotate(-90) scale(1.04,1)" font-size="6" fill="#444444" text-anchor="end">(3.274, 3.355]</text>
<text transform="translate(652.06,489.2) rotate(-90) scale(1.04,1)" font-size="6" fill="#444444" text-anchor="end">(3.517, 3.598]</text>
<text transform="translate(658.44,489.2) rotate(-90) scale(1.04,1)" font-size="6" fill="#444444" text-anchor="end">(3.76, 3.841]</text>
<text transform="translate(664.82,489.2) rotate(-90) scale(1.04,1)" font-size="6" fill="#444444" text-anchor="end">(4.003, 4.084]</text>
<text transform="translate(671.21,489.2) rotate(-90) scale(1.04,1)" font-size="6" fill="#444444" text-anchor="end">(4.246, 4.327]</text>
<text transform="translate(677.59,489.2) rotate(-90) scale(1.04,1)" font-size="6" fill="#444444" text-anchor="end">(4.489, 4.57]</text>
<text transform="translate(683.97,489.2) rotate(-90) scale(1.04,1)" font-size="6" fill="#444444" text-anchor="end">(4.732, 4.813]</text>
<text transform="translate(690.35,489.2) rotate(-90) scale(1.04,1)" font-size="6" fill="#444444" text-anchor="end">(4.975, 5.056]</text>
<text transform="translate(696.73,489.2) rotate(-90) scale(1.04,1)" font-size="6" fill="#444444" text-anchor="end">(5.218, 5.299]</text>
<text transform="translate(703.11,489.2) rotate(-90) scale(1.04,1)" font-size="6" fill="#444444" text-anchor="end">(5.461, 5.542]</text>
<text transform="translate(709.49,489.2) rotate(-90) scale(1.04,1)" font-size="6" fill="#444444" text-anchor="end">(5.704, 5.785]</text>
<path d="M548.05,435.5 L548.05,476 L546.3,476 L549.3,479.6 L552.3,476 L550.55,476 L550.55,435.5 Z" fill="#ffc000" stroke="#262626" stroke-width="0.75" stroke-linejoin="miter"/>
<rect x="522.3" y="412.2" width="29.6" height="23.3" fill="#fff" stroke="#333" stroke-width="1"/>
<rect x="547.75" y="435.5" width="3.1" height="1" fill="#111"/>
<text x="527.5" y="421" font-size="7.2" fill="#ff1a1a" textLength="19.3" lengthAdjust="spacingAndGlyphs">VAR(99)=</text>
<text x="527.5" y="428.8" font-size="7.2" fill="#ff1a1a" textLength="12" lengthAdjust="spacingAndGlyphs">–0.34</text>
<path d="M552.45,408.6 L552.45,449.8 L550.7,449.8 L553.7,453.4 L556.7,449.8 L554.95,449.8 L554.95,408.6 Z" fill="#ffc000" stroke="#262626" stroke-width="0.75" stroke-linejoin="miter"/>
<rect x="539.8" y="385.4" width="28.8" height="23.2" fill="#fff" stroke="#333" stroke-width="1"/>
<rect x="552.15" y="408.6" width="3.1" height="1" fill="#111"/>
<text x="544.6" y="394.5" font-size="7.2" fill="#ff1a1a" textLength="19.8" lengthAdjust="spacingAndGlyphs">VAR(95)=</text>
<text x="544.6" y="402.6" font-size="7.2" fill="#ff1a1a" textLength="12" lengthAdjust="spacingAndGlyphs">–0.12</text>
<rect x="9.5" y="603.3" width="358.5" height="214.2" fill="#fff" stroke="#f0f0f0" stroke-width="1"/>
<text x="134.2" y="617.5" font-size="10.8" fill="#4a4a4a" textLength="109" lengthAdjust="spacingAndGlyphs">VAR 95th and 99th Percentile</text>
<line x1="30.5" y1="747.6" x2="364.0" y2="747.6" stroke="#e3e3e3" stroke-width="1"/>
<text transform="translate(25.9,749.95) scale(0.84,1)" font-size="6.6" fill="#444444" text-anchor="end">0</text>
<line x1="30.5" y1="735.55" x2="364.0" y2="735.55" stroke="#e3e3e3" stroke-width="1"/>
<text transform="translate(25.9,737.9) scale(0.84,1)" font-size="6.6" fill="#444444" text-anchor="end">50</text>
<line x1="30.5" y1="723.5" x2="364.0" y2="723.5" stroke="#e3e3e3" stroke-width="1"/>
<text transform="translate(25.9,725.85) scale(0.84,1)" font-size="6.6" fill="#444444" text-anchor="end">100</text>
<line x1="30.5" y1="711.45" x2="364.0" y2="711.45" stroke="#e3e3e3" stroke-width="1"/>
<text transform="translate(25.9,713.8) scale(0.84,1)" font-size="6.6" fill="#444444" text-anchor="end">150</text>
<line x1="30.5" y1="699.4" x2="364.0" y2="699.4" stroke="#e3e3e3" stroke-width="1"/>
<text transform="translate(25.9,701.75) scale(0.84,1)" font-size="6.6" fill="#444444" text-anchor="end">200</text>
<line x1="30.5" y1="687.35" x2="364.0" y2="687.35" stroke="#e3e3e3" stroke-width="1"/>
<text transform="translate(25.9,689.7) scale(0.84,1)" font-size="6.6" fill="#444444" text-anchor="end">250</text>
<line x1="30.5" y1="675.3" x2="364.0" y2="675.3" stroke="#e3e3e3" stroke-width="1"/>
<text transform="translate(25.9,677.65) scale(0.84,1)" font-size="6.6" fill="#444444" text-anchor="end">300</text>
<line x1="30.5" y1="663.25" x2="364.0" y2="663.25" stroke="#e3e3e3" stroke-width="1"/>
<text transform="translate(25.9,665.6) scale(0.84,1)" font-size="6.6" fill="#444444" text-anchor="end">350</text>
<line x1="30.5" y1="651.2" x2="364.0" y2="651.2" stroke="#e3e3e3" stroke-width="1"/>
<text transform="translate(25.9,653.55) scale(0.84,1)" font-size="6.6" fill="#444444" text-anchor="end">400</text>
<line x1="30.5" y1="639.15" x2="364.0" y2="639.15" stroke="#e3e3e3" stroke-width="1"/>
<text transform="translate(25.9,641.5) scale(0.84,1)" font-size="6.6" fill="#444444" text-anchor="end">450</text>
<line x1="30.5" y1="627.1" x2="364.0" y2="627.1" stroke="#e3e3e3" stroke-width="1"/>
<text transform="translate(25.9,629.45) scale(0.84,1)" font-size="6.6" fill="#444444" text-anchor="end">500</text>
<line x1="30.5" y1="627.1" x2="30.5" y2="747.6" stroke="#e3e3e3" stroke-width="0.8"/>
<rect x="193.7" y="747.36" width="3.4" height="0.24" fill="#5b9bd5"/>
<rect x="197.5" y="746.64" width="3.4" height="0.96" fill="#5b9bd5"/>
<rect x="201.3" y="747.12" width="3.4" height="0.48" fill="#5b9bd5"/>
<rect x="205.1" y="744.95" width="3.4" height="2.65" fill="#5b9bd5"/>
<rect x="208.9" y="738.92" width="3.4" height="8.68" fill="#5b9bd5"/>
<rect x="212.7" y="726.63" width="3.4" height="20.97" fill="#5b9bd5"/>
<rect x="216.5" y="675.3" width="3.4" height="72.3" fill="#5b9bd5"/>
<rect x="220.3" y="636.02" width="3.4" height="111.58" fill="#5b9bd5"/>
<rect x="224.1" y="678.91" width="3.4" height="68.69" fill="#5b9bd5"/>
<rect x="227.9" y="728.08" width="3.4" height="19.52" fill="#5b9bd5"/>
<rect x="231.7" y="738.92" width="3.4" height="8.68" fill="#5b9bd5"/>
<rect x="235.5" y="743.99" width="3.4" height="3.61" fill="#5b9bd5"/>
<rect x="239.3" y="745.91" width="3.4" height="1.69" fill="#5b9bd5"/>
<rect x="243.1" y="747.36" width="3.4" height="0.24" fill="#5b9bd5"/>
<rect x="254.5" y="747.36" width="3.4" height="0.24" fill="#5b9bd5"/>
<text transform="translate(34.04,753.4) rotate(-90) scale(1,1)" font-size="6" fill="#444444" text-anchor="end">[-21.2235, -20.8035]</text>
<text transform="translate(41.64,753.4) rotate(-90) scale(1,1)" font-size="6" fill="#444444" text-anchor="end">(-20.3835, -19.9635]</text>
<text transform="translate(49.24,753.4) rotate(-90) scale(1,1)" font-size="6" fill="#444444" text-anchor="end">(-19.5435, -19.1235]</text>
<text transform="translate(56.84,753.4) rotate(-90) scale(1,1)" font-size="6" fill="#444444" text-anchor="end">(-18.7035, -18.2835]</text>
<text transform="translate(64.44,753.4) rotate(-90) scale(1,1)" font-size="6" fill="#444444" text-anchor="end">(-17.8635, -17.4435]</text>
<text transform="translate(72.04,753.4) rotate(-90) scale(1,1)" font-size="6" fill="#444444" text-anchor="end">(-17.0235, -16.6035]</text>
<text transform="translate(79.64,753.4) rotate(-90) scale(1,1)" font-size="6" fill="#444444" text-anchor="end">(-16.1835, -15.7635]</text>
<text transform="translate(87.24,753.4) rotate(-90) scale(1,1)" font-size="6" fill="#444444" text-anchor="end">(-15.3435, -14.9235]</text>
<text transform="translate(94.84,753.4) rotate(-90) scale(1,1)" font-size="6" fill="#444444" text-anchor="end">(-14.5035, -14.0835]</text>
<text transform="translate(102.44,753.4) rotate(-90) scale(1,1)" font-size="6" fill="#444444" text-anchor="end">(-13.6635, -13.2435]</text>
<text transform="translate(110.04,753.4) rotate(-90) scale(1,1)" font-size="6" fill="#444444" text-anchor="end">(-12.8235, -12.4035]</text>
<text transform="translate(117.64,753.4) rotate(-90) scale(1,1)" font-size="6" fill="#444444" text-anchor="end">(-11.9835, -11.5635]</text>
<text transform="translate(125.24,753.4) rotate(-90) scale(1,1)" font-size="6" fill="#444444" text-anchor="end">(-11.1435, -10.7235]</text>
<text transform="translate(132.84,753.4) rotate(-90) scale(1,1)" font-size="6" fill="#444444" text-anchor="end">(-10.3035, -9.8835]</text>
<text transform="translate(140.44,753.4) rotate(-90) scale(1,1)" font-size="6" fill="#444444" text-anchor="end">(-9.4635, -9.0435]</text>
<text transform="translate(148.04,753.4) rotate(-90) scale(1,1)" font-size="6" fill="#444444" text-anchor="end">(-8.6235, -8.2035]</text>
<text transform="translate(155.64,753.4) rotate(-90) scale(1,1)" font-size="6" fill="#444444" text-anchor="end">(-7.7835, -7.3635]</text>
<text transform="translate(163.24,753.4) rotate(-90) scale(1,1)" font-size="6" fill="#444444" text-anchor="end">(-6.9435, -6.5235]</text>
<text transform="translate(170.84,753.4) rotate(-90) scale(1,1)" font-size="6" fill="#444444" text-anchor="end">(-6.1035, -5.6835]</text>
<text transform="translate(178.44,753.4) rotate(-90) scale(1,1)" font-size="6" fill="#444444" text-anchor="end">(-5.2635, -4.8435]</text>
<text transform="translate(186.04,753.4) rotate(-90) scale(1,1)" font-size="6" fill="#444444" text-anchor="end">(-4.4235, -4.0035]</text>
<text transform="translate(193.64,753.4) rotate(-90) scale(1,1)" font-size="6" fill="#444444" text-anchor="end">(-3.5835, -3.1635]</text>
<text transform="translate(201.24,753.4) rotate(-90) scale(1,1)" font-size="6" fill="#444444" text-anchor="end">(-2.7435, -2.3235]</text>
<text transform="translate(208.84,753.4) rotate(-90) scale(1,1)" font-size="6" fill="#444444" text-anchor="end">(-1.9035, -1.4835]</text>
<text transform="translate(216.44,753.4) rotate(-90) scale(1,1)" font-size="6" fill="#444444" text-anchor="end">(-1.0635, -0.6435]</text>
<text transform="translate(224.04,753.4) rotate(-90) scale(1,1)" font-size="6" fill="#444444" text-anchor="end">(-0.2235, 0.1965]</text>
<text transform="translate(231.64,753.4) rotate(-90) scale(1,1)" font-size="6" fill="#444444" text-anchor="end">(0.6165, 1.0365]</text>
<text transform="translate(239.24,753.4) rotate(-90) scale(1,1)" font-size="6" fill="#444444" text-anchor="end">(1.4565, 1.8765]</text>
<text transform="translate(246.84,753.4) rotate(-90) scale(1,1)" font-size="6" fill="#444444" text-anchor="end">(2.2965, 2.7165]</text>
<text transform="translate(254.44,753.4) rotate(-90) scale(1,1)" font-size="6" fill="#444444" text-anchor="end">(3.1365, 3.5565]</text>
<text transform="translate(262.04,753.4) rotate(-90) scale(1,1)" font-size="6" fill="#444444" text-anchor="end">(3.9765, 4.3965]</text>
<text transform="translate(269.64,753.4) rotate(-90) scale(1,1)" font-size="6" fill="#444444" text-anchor="end">(4.8165, 5.2365]</text>
<text transform="translate(277.24,753.4) rotate(-90) scale(1,1)" font-size="6" fill="#444444" text-anchor="end">(5.6565, 6.0765]</text>
<text transform="translate(284.84,753.4) rotate(-90) scale(1,1)" font-size="6" fill="#444444" text-anchor="end">(6.4965, 6.9165]</text>
<text transform="translate(292.44,753.4) rotate(-90) scale(1,1)" font-size="6" fill="#444444" text-anchor="end">(7.3365, 7.7565]</text>
<text transform="translate(300.04,753.4) rotate(-90) scale(1,1)" font-size="6" fill="#444444" text-anchor="end">(8.1765, 8.5965]</text>
<text transform="translate(307.64,753.4) rotate(-90) scale(1,1)" font-size="6" fill="#444444" text-anchor="end">(9.0165, 9.4365]</text>
<text transform="translate(315.24,753.4) rotate(-90) scale(1,1)" font-size="6" fill="#444444" text-anchor="end">(9.8565, 10.2765]</text>
<text transform="translate(322.84,753.4) rotate(-90) scale(1,1)" font-size="6" fill="#444444" text-anchor="end">(10.6965, 11.1165]</text>
<text transform="translate(330.44,753.4) rotate(-90) scale(1,1)" font-size="6" fill="#444444" text-anchor="end">(11.5365, 11.9565]</text>
<text transform="translate(338.04,753.4) rotate(-90) scale(1,1)" font-size="6" fill="#444444" text-anchor="end">(12.3765, 12.7965]</text>
<text transform="translate(345.64,753.4) rotate(-90) scale(1,1)" font-size="6" fill="#444444" text-anchor="end">(13.2165, 13.6365]</text>
<text transform="translate(353.24,753.4) rotate(-90) scale(1,1)" font-size="6" fill="#444444" text-anchor="end">(14.0565, 14.4765]</text>
<text transform="translate(360.84,753.4) rotate(-90) scale(1,1)" font-size="6" fill="#444444" text-anchor="end">(14.8965, 15.3165]</text>
<path d="M197.95,705.3 L197.95,740.9 L196.2,740.9 L199.2,744.5 L202.2,740.9 L200.45,740.9 L200.45,705.3 Z" fill="#ffc000" stroke="#262626" stroke-width="0.75" stroke-linejoin="miter"/>
<rect x="170.2" y="684.6" width="31.3" height="20.7" fill="#fff" stroke="#333" stroke-width="1"/>
<rect x="197.65" y="705.3" width="3.1" height="1" fill="#111"/>
<text x="175" y="693.5" font-size="7.2" fill="#ff1a1a" textLength="21" lengthAdjust="spacingAndGlyphs">VAR(99)=</text>
<text x="175" y="700.7" font-size="7.2" fill="#ff1a1a" textLength="15.7" lengthAdjust="spacingAndGlyphs">–2.685</text>
<path d="M211.85,682.7 L211.85,720.7 L210.1,720.7 L213.1,724.3 L216.1,720.7 L214.35,720.7 L214.35,682.7 Z" fill="#ffc000" stroke="#262626" stroke-width="0.75" stroke-linejoin="miter"/>
<rect x="198.2" y="661.4" width="30.7" height="21.3" fill="#fff" stroke="#333" stroke-width="1"/>
<rect x="211.55" y="682.7" width="3.1" height="1" fill="#111"/>
<text x="203.4" y="670" font-size="7.2" fill="#ff1a1a" textLength="20.2" lengthAdjust="spacingAndGlyphs">VAR(95)=</text>
<text x="203.4" y="677.2" font-size="7.2" fill="#ff1a1a" textLength="12.7" lengthAdjust="spacingAndGlyphs">–1.14</text>
</g>
<rect x="372" y="1" width="2" height="578" fill="#707070"/>
<rect x="371.6" y="578" width="1.4" height="256" fill="#333"/>
<rect x="1" y="1" width="717" height="1" fill="#1a1a1a"/>
<rect x="1" y="1" width="1" height="833" fill="#1a1a1a"/>
<rect x="717" y="1" width="1" height="833" fill="#1a1a1a"/>
<rect x="1" y="832.8" width="717" height="1.1" fill="#1a1a1a"/>
<rect x="1" y="300" width="717" height="1" fill="#222"/>
<rect x="1" y="301" width="717" height="0.4" fill="#999"/>
<rect x="1" y="578" width="717" height="1" fill="#505050"/>
<rect x="1" y="579" width="717" height="1" fill="#a8a8a8"/>
</svg></body></html>
